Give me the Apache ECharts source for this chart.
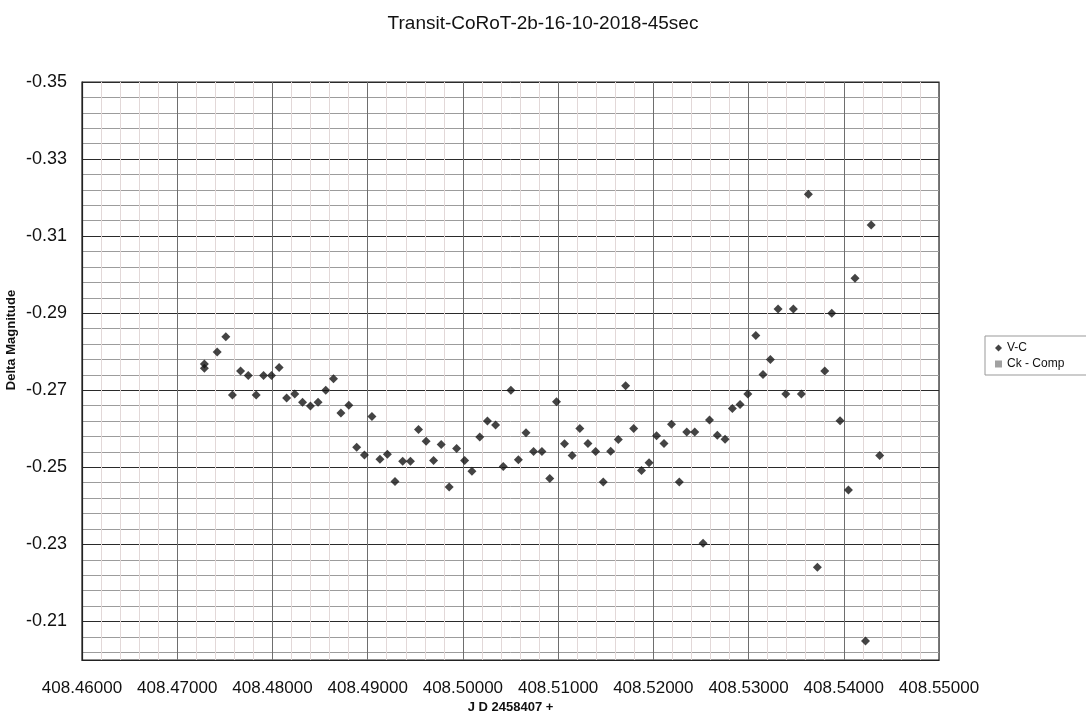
<!DOCTYPE html>
<html>
<head>
<meta charset="utf-8">
<script src="https://cdn.jsdelivr.net/npm/echarts@6/dist/echarts.min.js"></script>
<style>html,body{margin:0;padding:0;background:#fff;}#c{width:1086px;height:717px;}</style>
</head>
<body>
<div id="c"></div>
<script>
const titleText = 'Transit-CoRoT-2b-16-10-2018-45sec';
const seriesNames = ['V-C', 'Ck - Comp'];
const jd = [
  408.47285, 408.47285, 408.47420, 408.47510, 408.47580, 408.47665, 408.47746, 408.47829, 408.47907, 408.47990,
  408.48070, 408.48149, 408.48234, 408.48316, 408.48399, 408.48479, 408.48560, 408.48641, 408.48719, 408.48802,
  408.48885, 408.48966, 408.49045, 408.49129, 408.49207, 408.49287, 408.49368, 408.49449, 408.49534, 408.49614,
  408.49692, 408.49772, 408.49856, 408.49934, 408.50018, 408.50095, 408.50177, 408.50258, 408.50343, 408.50424,
  408.50504, 408.50583, 408.50663, 408.50742, 408.50830, 408.50912, 408.50983, 408.51067, 408.51147, 408.51228,
  408.51313, 408.51394, 408.51474, 408.51552, 408.51632, 408.51709, 408.51794, 408.51876, 408.51955, 408.52034,
  408.52112, 408.52191, 408.52273, 408.52351, 408.52435, 408.52522, 408.52590, 408.52672, 408.52753, 408.52830,
  408.52911, 408.52992, 408.53076, 408.53152, 408.53229, 408.53310, 408.53391, 408.53471, 408.53555, 408.53628,
  408.53723, 408.53800, 408.53874, 408.53961, 408.54049, 408.54118, 408.54228, 408.54288, 408.54377
];
const vc = [
  -0.2768, -0.2757, -0.2799, -0.2839, -0.2688, -0.2750, -0.2738, -0.2688, -0.2738, -0.2738,
  -0.2759, -0.2680, -0.2690, -0.2669, -0.2659, -0.2669, -0.2700, -0.2730, -0.2641, -0.2661,
  -0.2552, -0.2532, -0.2632, -0.2521, -0.2534, -0.2463, -0.2516, -0.2516, -0.2598, -0.2568,
  -0.2518, -0.2559, -0.2449, -0.2549, -0.2518, -0.2490, -0.2579, -0.2620, -0.2610, -0.2502,
  -0.2700, -0.2520, -0.2590, -0.2541, -0.2541, -0.2471, -0.2670, -0.2561, -0.2531, -0.2601,
  -0.2562, -0.2541, -0.2462, -0.2542, -0.2572, -0.2712, -0.2601, -0.2492, -0.2512, -0.2582,
  -0.2562, -0.2612, -0.2462, -0.2592, -0.2592, -0.2303, -0.2623, -0.2583, -0.2573, -0.2653,
  -0.2663, -0.2690, -0.2842, -0.2741, -0.2780, -0.2911, -0.2690, -0.2911, -0.2690, -0.3209,
  -0.2241, -0.2750, -0.2900, -0.2621, -0.2441, -0.2991, -0.2049, -0.3129, -0.2531
];
const ckComp = [];
const xMin = 408.46, xMax = 408.55, xStep = 0.01;
const yMin = -0.35, yMax = -0.20, yStep = 0.002, yLabelEvery = 10;

const font = 'Liberation Sans, Arial, sans-serif';
// horizontal grid colors: major every 0.02, minor every 0.004, none in between
const hColors = [];
for (let i = 0; i < yLabelEvery; i++) {
  hColors.push(i === 0 ? '#2a2a2a' : (i % 2 === 0 ? '#9c9c9c' : 'rgba(0,0,0,0)'));
}

const chart = echarts.init(document.getElementById('c'));
chart.setOption({
  backgroundColor: '#ffffff',
  animation: false,
  title: {
    text: titleText, left: 'center', top: 9,
    textStyle: {fontFamily: font, fontSize: 19, fontWeight: 'normal', color: '#111'}
  },
  legend: {
    orient: 'vertical', left: 985, top: 336,
    itemWidth: 7, itemHeight: 7, itemGap: 4,
    padding: [6, 40, 5, 10],
    borderColor: '#999', borderWidth: 1,
    textStyle: {fontFamily: font, fontSize: 12, color: '#111'},
    data: [
      {name: seriesNames[0], icon: 'diamond'},
      {name: seriesNames[1], icon: 'rect'}
    ]
  },
  grid: {
    left: 82, top: 82, right: 147, bottom: 57,
    containLabel: false, outerBoundsMode: 'none',
    show: true, borderColor: '#222', borderWidth: 1.2, backgroundColor: 'rgba(0,0,0,0)'
  },
  xAxis: {
    type: 'value', min: xMin, max: xMax, interval: xStep,
    name: 'J D 2458407 +', nameLocation: 'middle', nameGap: 41, nameMoveOverlap: false,
    nameTextStyle: {fontFamily: font, fontSize: 13, fontWeight: 'bold', color: '#111'},
    axisLine: {show: true, onZero: false, lineStyle: {color: '#222', width: 1.2}},
    axisTick: {show: false},
    axisLabel: {
      fontFamily: font, fontSize: 17, color: '#111', margin: 20,
      formatter: v => v.toFixed(5)
    },
    splitLine: {show: true, lineStyle: {color: '#6e6e6e', width: 1}},
    minorTick: {show: false, splitNumber: 5},
    minorSplitLine: {show: true, lineStyle: {color: '#e2d8d8', width: 1}}
  },
  yAxis: {
    type: 'value', min: yMin, max: yMax, interval: yStep, inverse: true,
    name: 'Delta Magnitude', nameLocation: 'middle', nameGap: 64, nameMoveOverlap: false,
    nameTextStyle: {fontFamily: font, fontSize: 13, fontWeight: 'bold', color: '#111', padding: [0, 0, 0, 62]},
    axisLine: {show: true, onZero: false, lineStyle: {color: '#222', width: 1.2}},
    axisTick: {show: false},
    axisLabel: {
      fontFamily: font, fontSize: 18, color: '#111', margin: 15,
      formatter: function (v) {
        const k = Math.round((v - yMin) / yStep);
        return k % yLabelEvery === 0 ? v.toFixed(2) : '';
      }
    },
    splitLine: {show: true, lineStyle: {color: hColors, width: 1}}
  },
  series: [
    {
      name: seriesNames[0], type: 'scatter', symbol: 'diamond', symbolSize: 9,
      itemStyle: {color: '#151515'},
      data: jd.map((x, i) => [x, vc[i]])
    },
    {
      name: seriesNames[1], type: 'scatter', symbol: 'rect', symbolSize: 7,
      itemStyle: {color: '#8a8a8a'},
      data: ckComp
    }
  ]
});
</script>
</body>
</html>
